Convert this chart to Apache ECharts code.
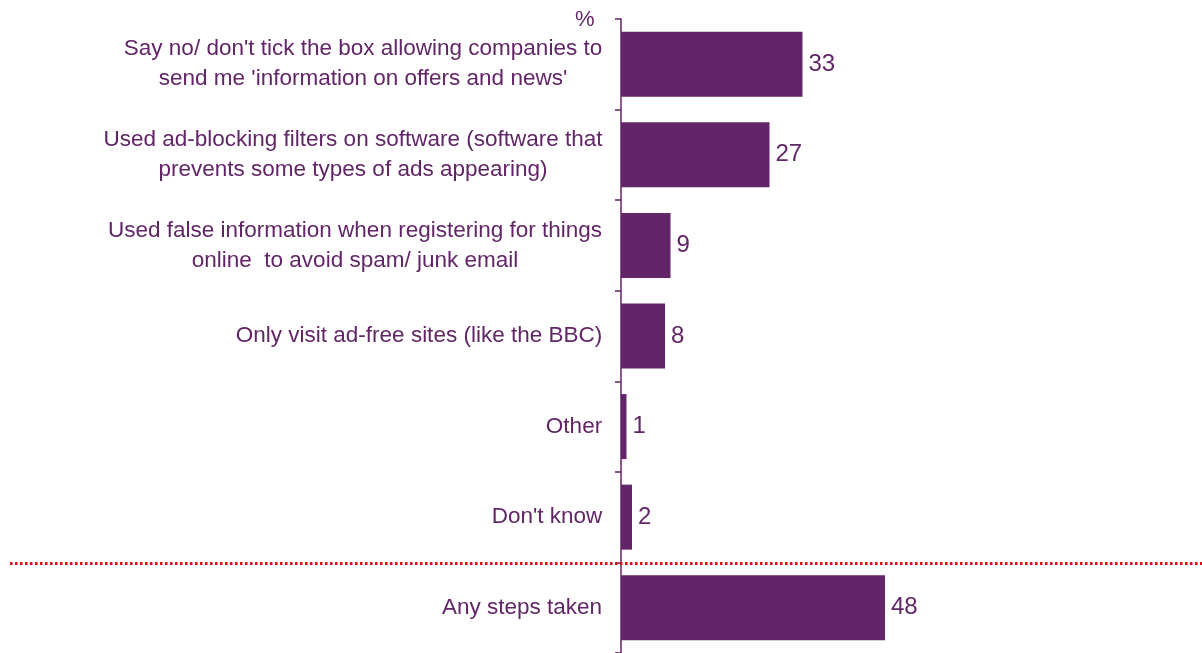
<!DOCTYPE html>
<html>
<head>
<meta charset="utf-8">
<script src="https://cdn.jsdelivr.net/npm/echarts@6/dist/echarts.min.js"></script>
<style>
html,body{margin:0;padding:0;background:#fff;}
#main{width:1202px;height:653px;}
</style>
</head>
<body>
<div id="main"></div>
<script>
var categories = [
  "Say no/ don't tick the box allowing companies to\nsend me 'information on offers and news'",
  "Used ad-blocking filters on software (software that\nprevents some types of ads appearing)",
  "Used false information when registering for things\nonline  to avoid spam/ junk email",
  "Only visit ad-free sites (like the BBC)",
  "Other",
  "Don't know",
  "Any steps taken"
];
var values = [33, 27, 9, 8, 1, 2, 48];
var unitLabel = "%";

var PURPLE = '#622567';
var FONT = "'Liberation Sans', Arial, sans-serif";
var CAT_SIZE = 22.5;

var ctx = document.createElement('canvas').getContext('2d');
ctx.font = CAT_SIZE + "px " + FONT;
var rich = {};
categories.forEach(function (c, i) {
  var w = 0;
  c.split('\n').forEach(function (l) { w = Math.max(w, ctx.measureText(l).width); });
  rich['c' + i] = { width: Math.ceil(w) + 1, align: 'center', fontSize: CAT_SIZE, lineHeight: 30, color: PURPLE, fontFamily: FONT };
});

var chart = echarts.init(document.getElementById('main'), null, { renderer: 'canvas' });
chart.setOption({
  animation: false,
  grid: { left: 621, top: 19, width: 550, height: 637 },
  xAxis: {
    type: 'value', min: 0, max: 100, show: false
  },
  yAxis: {
    type: 'category', data: categories, inverse: true,
    axisLine: { show: true, lineStyle: { color: PURPLE, width: 1.5 } },
    axisTick: { show: true, inside: false, length: 6, lineStyle: { color: PURPLE, width: 1.5 } },
    axisLabel: {
      margin: 18,
      formatter: function (v, idx) {
        return v.split('\n').map(function (l) { return '{c' + idx + '|' + l + '}'; }).join('\n');
      },
      rich: rich
    }
  },
  series: [{
    type: 'bar',
    data: values,
    barWidth: 65,
    itemStyle: { color: PURPLE },
    label: {
      show: true, position: 'right', distance: 6,
      color: PURPLE, fontSize: 24, fontFamily: FONT
    }
  }],
  graphic: [
    { type: 'text', left: 575, top: 9, style: { text: unitLabel, fill: PURPLE, fontSize: 22, fontFamily: FONT } },
    { type: 'line', shape: { x1: 10, y1: 563.5, x2: 1202, y2: 563.5 },
      style: { stroke: '#E00A14', lineWidth: 3, lineDash: [2.5, 2.5] }, z: 10 }
  ]
});
</script>
</body>
</html>
